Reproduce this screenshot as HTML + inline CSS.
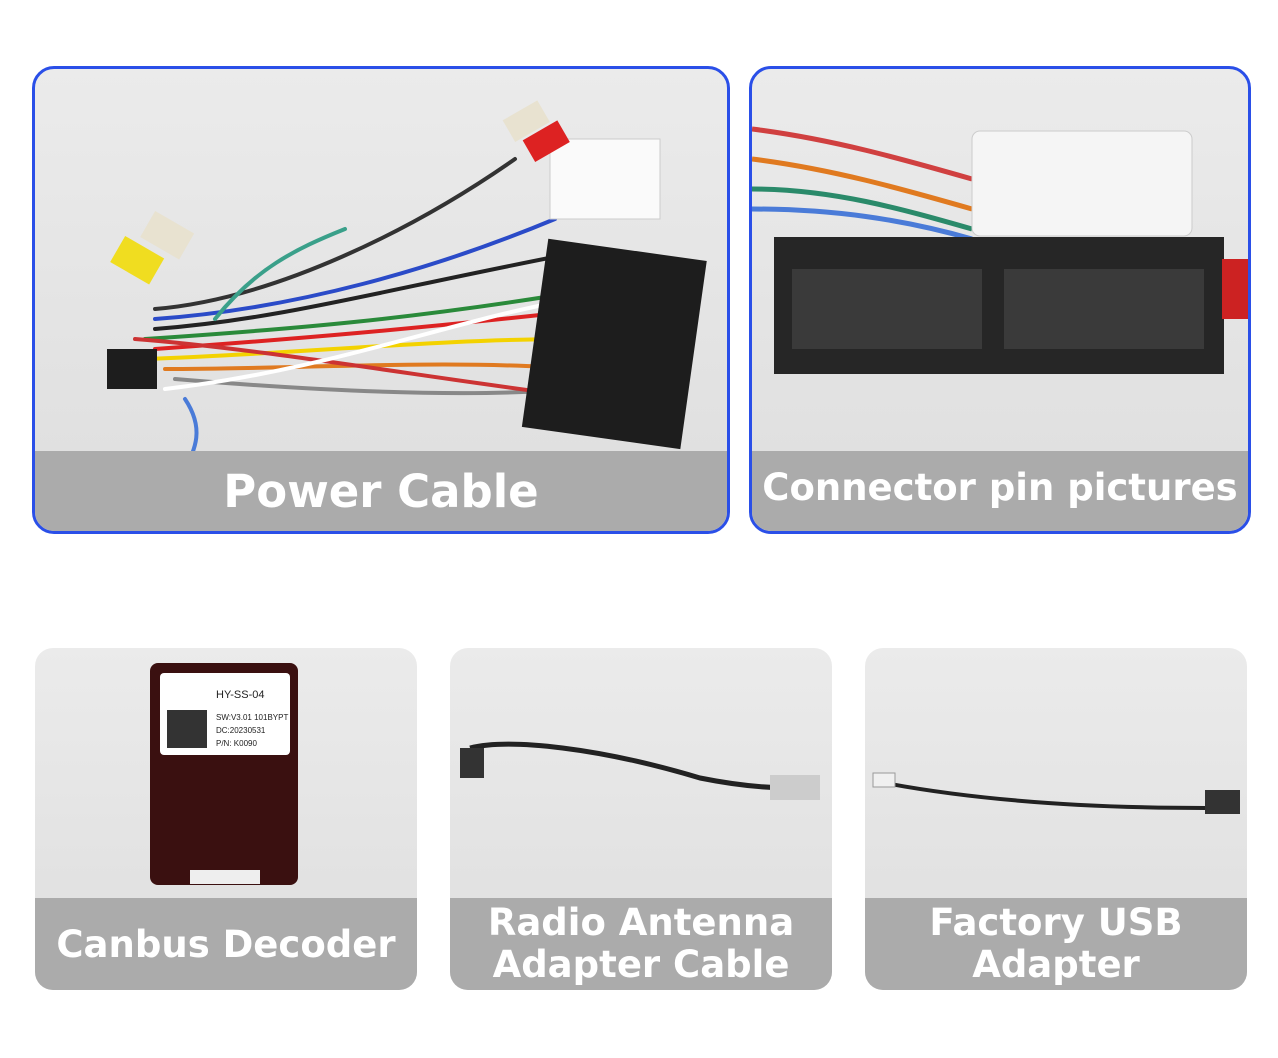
<!DOCTYPE html>
<html><head><style>
body{margin:0;width:1278px;height:1058px;background:#fff;position:relative;overflow:hidden;font-family:"DejaVu Sans","Liberation Sans",sans-serif}
.p{position:absolute;overflow:hidden;background:linear-gradient(#ebebeb,#dedede)}
.big{border:3px solid #2a4fe8;border-radius:22px;box-sizing:border-box}
.sm{border-radius:18px}
.band{position:absolute;left:0;right:0;bottom:0;background:#ababab;color:#fff;font-weight:bold;text-align:center;display:flex;align-items:center;justify-content:center;line-height:1}
svg{position:absolute;left:0;top:0}
</style></head><body>

<div class="p big" style="left:32px;top:66px;width:698px;height:468px">
<svg width="698" height="468">
 <g fill="none" stroke-width="4" stroke-linecap="round">
  <path d="M120 260 C250 250 350 220 560 180" stroke="#222"/>
  <path d="M110 270 C260 260 380 250 560 220" stroke="#2a8a3a"/>
  <path d="M120 280 C260 270 380 260 560 240" stroke="#d22"/>
  <path d="M110 290 C260 285 400 270 540 270" stroke="#f3d200"/>
  <path d="M130 300 C260 300 420 290 540 300" stroke="#e07a20"/>
  <path d="M120 250 C260 240 400 200 520 150" stroke="#2b4bc8"/>
  <path d="M140 310 C260 320 420 330 540 320" stroke="#888"/>
  <path d="M120 240 C240 230 380 160 480 90" stroke="#333"/>
  <path d="M180 250 C220 200 260 180 310 160" stroke="#3aa08a"/>
  <path d="M150 330 C170 360 160 380 150 400" stroke="#4a7bd8"/>
  <path d="M100 270 C230 280 400 310 560 330" stroke="#c33"/>
  <path d="M130 320 C300 300 420 250 540 230" stroke="#fff"/>
 </g>
 <rect x="515" y="70" width="110" height="80" fill="#fafafa" stroke="#ccc"/>
 <rect x="500" y="180" width="160" height="190" fill="#1d1d1d" transform="rotate(8 580 270)"/>
 <rect x="72" y="280" width="50" height="40" fill="#1d1d1d"/>
 <rect x="80" y="175" width="45" height="30" fill="#f0dd20" transform="rotate(30 100 190)"/>
 <rect x="110" y="150" width="45" height="30" fill="#e8e2d0" transform="rotate(30 130 165)"/>
 <rect x="470" y="40" width="40" height="25" fill="#e8e2d0" transform="rotate(-30 490 50)"/>
 <rect x="490" y="60" width="40" height="25" fill="#d22" transform="rotate(-30 510 70)"/>
</svg>
<div class="band" style="height:80px;font-size:45px">Power Cable</div>
</div>

<div class="p big" style="left:749px;top:66px;width:502px;height:468px">
<svg width="502" height="468">
 <g fill="none" stroke-width="5">
  <path d="M0 60 C80 70 150 90 220 110" stroke="#d04040"/>
  <path d="M0 90 C80 100 150 120 220 140" stroke="#e07a20"/>
  <path d="M0 120 C80 120 150 140 220 160" stroke="#2a8a6a"/>
  <path d="M0 140 C80 140 150 150 220 170" stroke="#4a7bd8"/>
 </g>
 <rect x="220" y="62" width="220" height="105" rx="8" fill="#f5f5f5" stroke="#ccc"/>
 <rect x="22" y="168" width="450" height="137" fill="#262626"/>
 <rect x="40" y="200" width="190" height="80" fill="#3a3a3a"/>
 <rect x="252" y="200" width="200" height="80" fill="#3a3a3a"/>
 <rect x="470" y="190" width="32" height="60" fill="#c22"/>
</svg>
<div class="band" style="height:80px;font-size:37px;padding-bottom:8px;box-sizing:border-box">Connector pin pictures</div>
</div>

<div class="p sm" style="left:35px;top:648px;width:382px;height:342px">
<svg width="382" height="342">
 <rect x="115" y="15" width="148" height="222" rx="8" fill="#3a1010"/>
 <rect x="125" y="25" width="130" height="82" rx="4" fill="#fff"/>
 <rect x="132" y="62" width="40" height="38" fill="#333"/>
 <text x="181" y="50" font-size="11" fill="#222" font-family="Liberation Sans">HY-SS-04</text>
 <text x="181" y="72" font-size="8" fill="#222" font-family="Liberation Sans">SW:V3.01 101BYPT</text>
 <text x="181" y="85" font-size="8" fill="#222" font-family="Liberation Sans">DC:20230531</text>
 <text x="181" y="98" font-size="8" fill="#222" font-family="Liberation Sans">P/N: K0090</text>
 <rect x="155" y="222" width="70" height="14" fill="#eee"/>
</svg>
<div class="band" style="height:92px;font-size:37px">Canbus Decoder</div>
</div>

<div class="p sm" style="left:450px;top:648px;width:382px;height:342px">
<svg width="382" height="342">
 <path d="M20 100 C60 90 150 100 250 130 C300 140 330 140 350 140" fill="none" stroke="#222" stroke-width="5"/>
 <rect x="10" y="100" width="24" height="30" fill="#333"/>
 <rect x="320" y="127" width="50" height="25" fill="#ccc"/>
</svg>
<div class="band" style="height:92px;font-size:37px;line-height:42px">Radio Antenna<br>Adapter Cable</div>
</div>

<div class="p sm" style="left:865px;top:648px;width:382px;height:342px">
<svg width="382" height="342">
 <path d="M20 135 C100 150 200 160 340 160" fill="none" stroke="#222" stroke-width="4"/>
 <rect x="8" y="125" width="22" height="14" fill="#f0f0f0" stroke="#999"/>
 <rect x="340" y="142" width="35" height="24" fill="#333"/>
</svg>
<div class="band" style="height:92px;font-size:37px;line-height:42px">Factory USB<br>Adapter</div>
</div>

</body></html>
